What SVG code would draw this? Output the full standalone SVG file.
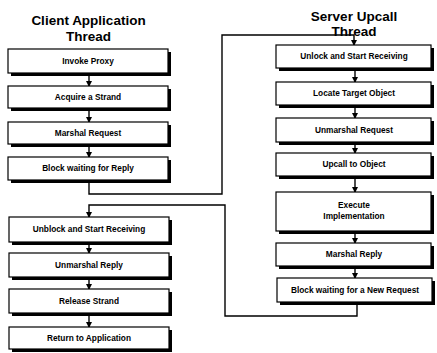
<svg xmlns="http://www.w3.org/2000/svg" width="437" height="353" viewBox="0 0 437 353">
  <style>
    .title { font-family: "Liberation Sans", Arial, sans-serif; font-weight: bold; font-size: 13.5px; fill: #000; text-anchor: middle; }
    .label { font-family: "Liberation Sans", Arial, sans-serif; font-weight: bold; font-size: 8.3px; fill: #000; text-anchor: middle; }
    .shadow { fill: #000; }
    .box { fill: #fff; stroke: #000; stroke-width: 1.2; }
    .wire { fill: none; stroke: #000; stroke-width: 1.4; }
  </style>
  <defs>
    <marker id="arrow" markerUnits="userSpaceOnUse" markerWidth="6" markerHeight="6" refX="5" refY="3" orient="auto">
      <path d="M0,0 L6,3 L0,6 Z" fill="#000"/>
    </marker>
  </defs>
  <rect width="437" height="353" fill="#fff"/>

  <!-- column titles -->
  <text class="title" x="88.5" y="25">Client Application</text>
  <text class="title" x="88.5" y="41">Thread</text>
  <text class="title" x="354" y="20.5">Server Upcall</text>
  <text class="title" x="354" y="36">Thread</text>

  <!-- connectors -->
  <g id="connectors">
    <!-- client chain -->
    <path class="wire" d="M89,76 V86" marker-end="url(#arrow)"/>
    <path class="wire" d="M89,111 V122" marker-end="url(#arrow)"/>
    <path class="wire" d="M89,147 V157" marker-end="url(#arrow)"/>
    <path class="wire" d="M89,245 V253" marker-end="url(#arrow)"/>
    <path class="wire" d="M89,280 V289" marker-end="url(#arrow)"/>
    <path class="wire" d="M89,316 V327" marker-end="url(#arrow)"/>
    <!-- server chain -->
    <path class="wire" d="M355,71 V82" marker-end="url(#arrow)"/>
    <path class="wire" d="M355,108 V118" marker-end="url(#arrow)"/>
    <path class="wire" d="M355,145 V153" marker-end="url(#arrow)"/>
    <path class="wire" d="M355,179 V192" marker-end="url(#arrow)"/>
    <path class="wire" d="M355,234 V243" marker-end="url(#arrow)"/>
    <path class="wire" d="M355,269 V278" marker-end="url(#arrow)"/>
    <!-- request: client to server -->
    <path class="wire" d="M89,183 V194 H222 V35 H354 V45" marker-end="url(#arrow)"/>
    <!-- reply: server to client -->
    <path class="wire" d="M357,305 V316 H225 V205 H89 V217" marker-end="url(#arrow)"/>
  </g>

  <!-- client nodes -->
  <g id="invoke-proxy">
    <rect class="shadow" x="11" y="52" width="160" height="24"/>
    <rect class="box" x="8" y="49" width="160" height="24"/>
    <text class="label" x="88" y="64">Invoke Proxy</text>
  </g>
  <g id="acquire-strand">
    <rect class="shadow" x="11" y="89" width="160" height="22"/>
    <rect class="box" x="8" y="86" width="160" height="22"/>
    <text class="label" x="88" y="100">Acquire a Strand</text>
  </g>
  <g id="marshal-request">
    <rect class="shadow" x="11" y="125" width="160" height="22"/>
    <rect class="box" x="8" y="122" width="160" height="22"/>
    <text class="label" x="88" y="136">Marshal Request</text>
  </g>
  <g id="block-reply">
    <rect class="shadow" x="11" y="160" width="160" height="23"/>
    <rect class="box" x="8" y="157" width="160" height="23"/>
    <text class="label" x="88" y="171">Block waiting for Reply</text>
  </g>
  <g id="unblock-receiving">
    <rect class="shadow" x="12" y="220" width="160" height="25"/>
    <rect class="box" x="9" y="217" width="160" height="25"/>
    <text class="label" x="89" y="232">Unblock and Start Receiving</text>
  </g>
  <g id="unmarshal-reply">
    <rect class="shadow" x="12" y="256" width="160" height="24"/>
    <rect class="box" x="9" y="253" width="160" height="24"/>
    <text class="label" x="89" y="268">Unmarshal Reply</text>
  </g>
  <g id="release-strand">
    <rect class="shadow" x="12" y="292" width="160" height="24"/>
    <rect class="box" x="9" y="289" width="160" height="24"/>
    <text class="label" x="89" y="304">Release Strand</text>
  </g>
  <g id="return-application">
    <rect class="shadow" x="12" y="330" width="160" height="22"/>
    <rect class="box" x="9" y="327" width="160" height="22"/>
    <text class="label" x="89" y="341">Return to Application</text>
  </g>

  <!-- server nodes -->
  <g id="unlock-receiving">
    <rect class="shadow" x="279" y="48" width="155" height="23"/>
    <rect class="box" x="276" y="45" width="155" height="23"/>
    <text class="label" x="354" y="59">Unlock and Start Receiving</text>
  </g>
  <g id="locate-target">
    <rect class="shadow" x="279" y="85" width="155" height="23"/>
    <rect class="box" x="276" y="82" width="155" height="23"/>
    <text class="label" x="354" y="96">Locate Target Object</text>
  </g>
  <g id="unmarshal-request">
    <rect class="shadow" x="279" y="121" width="155" height="24"/>
    <rect class="box" x="276" y="118" width="155" height="24"/>
    <text class="label" x="354" y="133">Unmarshal Request</text>
  </g>
  <g id="upcall-object">
    <rect class="shadow" x="279" y="156" width="155" height="23"/>
    <rect class="box" x="276" y="153" width="155" height="23"/>
    <text class="label" x="354" y="167">Upcall to Object</text>
  </g>
  <g id="execute-implementation">
    <rect class="shadow" x="279" y="195" width="155" height="39"/>
    <rect class="box" x="276" y="192" width="155" height="39"/>
    <text class="label" x="354" y="208">Execute</text>
    <text class="label" x="354" y="219">Implementation</text>
  </g>
  <g id="marshal-reply">
    <rect class="shadow" x="279" y="246" width="155" height="23"/>
    <rect class="box" x="276" y="243" width="155" height="23"/>
    <text class="label" x="354" y="257">Marshal Reply</text>
  </g>
  <g id="block-new-request">
    <rect class="shadow" x="280" y="281" width="155" height="24"/>
    <rect class="box" x="277" y="278" width="155" height="24"/>
    <text class="label" x="355" y="293">Block waiting for a New Request</text>
  </g>
</svg>
